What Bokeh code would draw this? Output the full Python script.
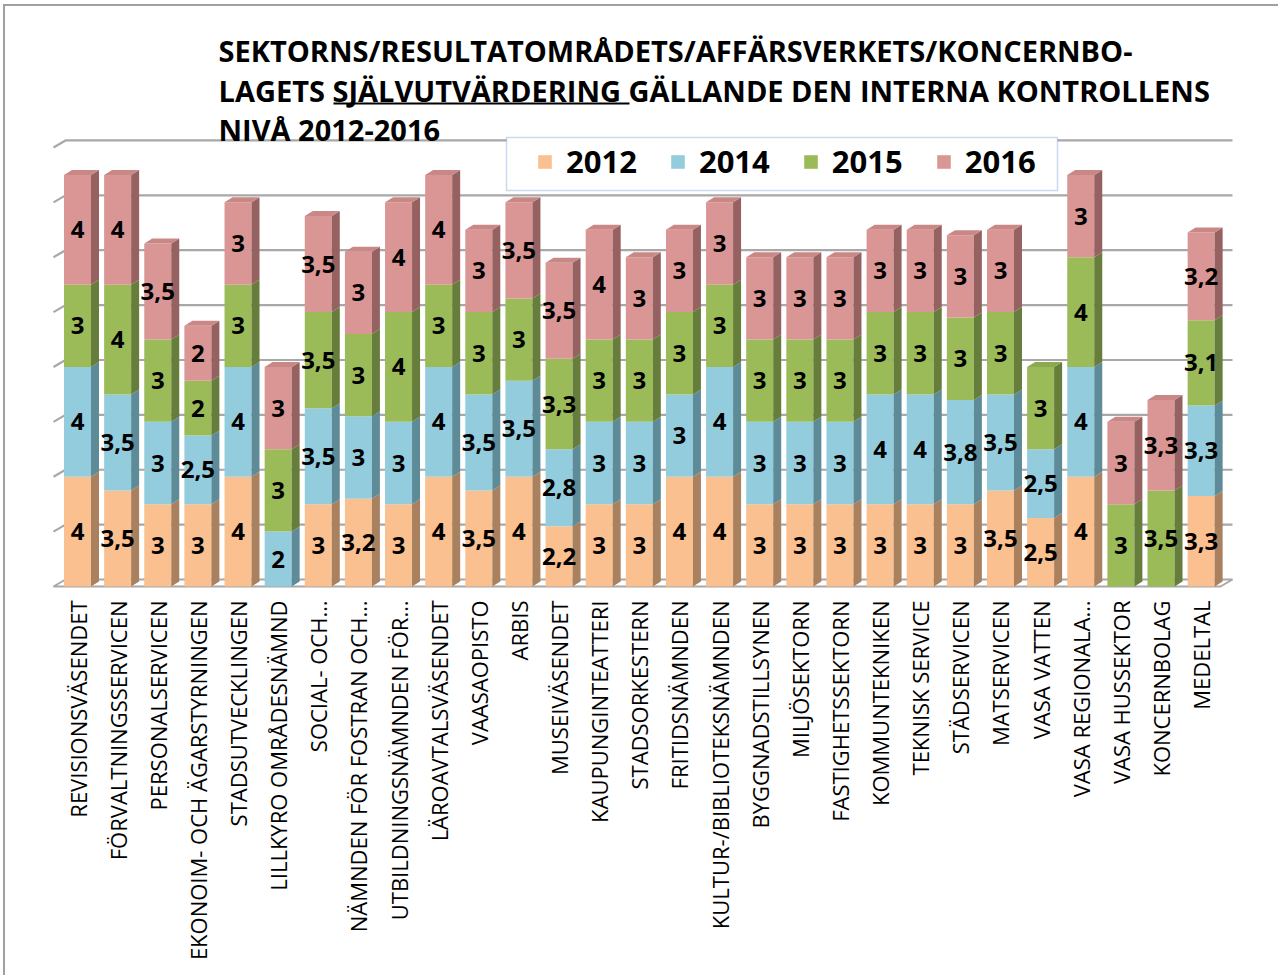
import math
import numpy as np
from bokeh.plotting import figure
from bokeh.models import ColumnDataSource, Range1d, FixedTicker, Label, BoxAnnotation
from bokeh.core.properties import value
from bokeh.embed import file_html
from bokeh.resources import INLINE

# ---------------- data ----------------
categories = [
    "REVISIONSVÄSENDET", "FÖRVALTNINGSSERVICEN", "PERSONALSERVICEN",
    "EKONOIM- OCH ÄGARSTYRNINGEN", "STADSUTVECKLINGEN", "LILLKYRO OMRÅDESNÄMND",
    "SOCIAL- OCH…", "NÄMNDEN FÖR FOSTRAN OCH…", "UTBILDNINGSNÄMNDEN FÖR…",
    "LÄROAVTALSVÄSENDET", "VAASAOPISTO", "ARBIS", "MUSEIVÄSENDET",
    "KAUPUNGINTEATTERI", "STADSORKESTERN", "FRITIDSNÄMNDEN",
    "KULTUR-/BIBLIOTEKSNÄMNDEN", "BYGGNADSTILLSYNEN", "MILJÖSEKTORN",
    "FASTIGHETSSEKTORN", "KOMMUNTEKNIKEN", "TEKNISK SERVICE", "STÄDSERVICEN",
    "MATSERVICEN", "VASA VATTEN", "VASA REGIONALA…", "VASA HUSSEKTOR",
    "KONCERNBOLAG", "MEDELTAL",
]
years = ["2012", "2014", "2015", "2016"]
score_2012 = [4, 3.5, 3, 3, 4, 0, 3, 3.2, 3, 4, 3.5, 4, 2.2, 3, 3, 4, 4, 3, 3, 3, 3, 3, 3, 3.5, 2.5, 4, 0, 0, 3.3]
score_2014 = [4, 3.5, 3, 2.5, 4, 2, 3.5, 3, 3, 4, 3.5, 3.5, 2.8, 3, 3, 3, 4, 3, 3, 3, 4, 4, 3.8, 3.5, 2.5, 4, 0, 0, 3.3]
score_2015 = [3, 4, 3, 2, 3, 3, 3.5, 3, 4, 3, 3, 3, 3.3, 3, 3, 3, 3, 3, 3, 3, 3, 3, 3, 3, 3, 4, 3, 3.5, 3.1]
score_2016 = [4, 4, 3.5, 2, 3, 3, 3.5, 3, 4, 4, 3, 3.5, 3.5, 4, 3, 3, 3, 3, 3, 3, 3, 3, 3, 3, 0, 3, 3, 3.3, 3.2]
grid_levels = [0, 2, 4, 6, 8, 10, 12, 14, 16]
title_lines = [
    "SEKTORNS/RESULTATOMRÅDETS/AFFÄRSVERKETS/KONCERNBO-",
    "LAGETS SJÄLVUTVÄRDERING GÄLLANDE DEN INTERNA KONTROLLENS",
    "NIVÅ 2012-2016",
]

series = [score_2012, score_2014, score_2015, score_2016]
n = len(categories)

# ---------------- styling ----------------
FONT = "Open Sans"
front_colors = ["#FAC090", "#93CDDD", "#9BBB59", "#D99694"]
side_colors = ["#A9815F", "#5E8B98", "#677D3B", "#956261"]
top_colors = ["#E6AF82", "#82BBCB", "#8BAA4F", "#C98786"]
grid_color = "#A8A8A8"

# page-pixel layout -> data mapping
OX, OY = 5, 6              # page position of the canvas origin
PX0, SX = 77.0, 40.13      # page x of bar 0, px per category
PY0, SY = 586.0, 27.44     # page y of value 0, px per unit
FR_L, FR_R, FR_T, FR_B = 48, 1245, OY, 592
W_FIG, H_FIG = 1275, 971


def dx_(px):
    return (px - PX0) / SX


def dy_(py):
    return (PY0 - py) / SY


W = 27 / SX          # bar front width
DX, DY = 8 / SX, 5 / SY      # bar depth
WDX, WDY = 12 / SX, 7 / SY   # wall depth
XL, XR = dx_(53), dx_(1232)

p = figure(
    width=W_FIG, height=H_FIG, title=None, toolbar_location=None,
    output_backend="svg", y_axis_location=None,
    x_range=Range1d(dx_(FR_L), dx_(FR_R)),
    y_range=Range1d(dy_(FR_B), dy_(FR_T)),
    min_border_left=FR_L - OX, min_border_right=W_FIG - (FR_R - OX),
    min_border_top=0, min_border_bottom=H_FIG - (FR_B - OY),
    background_fill_color="white", border_fill_color="white",
    outline_line_color=None,
    styles={"margin-left": "3px", "margin-top": "4px",
            "border-left": "2px solid #A0A0A0", "border-top": "2px solid #A0A0A0"},
)
p.xgrid.visible = False
p.ygrid.visible = False

# ---------------- walls / floor / gridlines ----------------
floor_x = [XL, XL + WDX, XR, XR - WDX]
floor_y = [0, WDY, WDY, 0]
p.patch(floor_x, floor_y, fill_color="white", line_color=grid_color, line_width=2)
gx, gy = [], []
for v in grid_levels[1:]:
    gx.append([XL, XL + WDX, XR])
    gy.append([v, v + WDY, v + WDY])
p.multi_line(gx, gy, line_color=grid_color, line_width=2.2)

# ---------------- bars ----------------
src = {"x": list(range(n))}
for yname, vals in zip(years, series):
    src[yname] = vals
source = ColumnDataSource(src)
renderers = p.vbar_stack(years, x="x", width=W, color=front_colors, line_color=None,
                         source=source, legend_label=years)

side_x, side_y, side_c = [], [], []
top_x, top_y, top_c = [], [], []
lab_x, lab_y, lab_t = [], [], []
bottom = np.zeros(n)
last_series = [-1] * n
for k, vals in enumerate(series):
    v = np.asarray(vals, dtype=float)
    top = bottom + v
    for i in range(n):
        if v[i] <= 0:
            continue
        xr = i + W / 2
        side_x.append([xr, xr + DX, xr + DX, xr])
        side_y.append([bottom[i], bottom[i] + DY, top[i] + DY, top[i]])
        side_c.append(side_colors[k])
        lab_x.append(i)
        lab_y.append(bottom[i] + v[i] / 2)
        lab_t.append(f"{v[i]:g}".replace(".", ","))
        last_series[i] = k
    bottom = top

for i in range(n):
    k = last_series[i]
    T = bottom[i]
    xl = i - W / 2
    top_x.append([xl, xl + DX, xl + W + DX, xl + W])
    top_y.append([T, T + DY, T + DY, T])
    top_c.append(top_colors[k])

p.patches(side_x, side_y, fill_color=side_c, line_color=None)
p.patches(top_x, top_y, fill_color=top_c, line_color=None)

p.text(lab_x, lab_y, text=lab_t, text_align="center", text_baseline="middle",
       text_font=value(FONT), text_font_style="bold", text_font_size="24px",
       text_color="black")

# ---------------- x axis ----------------
ax = p.xaxis[0]
ax.ticker = FixedTicker(ticks=list(range(n)))
ax.major_label_overrides = {i: c for i, c in enumerate(categories)}
ax.major_label_orientation = math.pi / 2
ax.major_label_text_font = FONT
ax.major_label_text_font_size = "22px"
ax.major_label_text_color = "black"
ax.major_label_standoff = 2
ax.axis_line_color = None
ax.major_tick_line_color = None
ax.minor_tick_line_color = None

# ---------------- title ----------------
for line, base in zip(title_lines, [50, 90, 129]):
    p.add_layout(Label(x=dx_(218), y=dy_(base), text=line, text_font=FONT,
                       text_font_style="bold", text_font_size="29px",
                       text_color="black", text_baseline="alphabetic"))
p.segment(x0=[dx_(333)], y0=[dy_(103)], x1=[dx_(629)], y1=[dy_(103)],
          line_color="black", line_width=2)

# ---------------- legend ----------------
p.add_layout(BoxAnnotation(left=dx_(506), right=dx_(1057), top=dy_(137), bottom=dy_(190),
                           fill_color="white", fill_alpha=1.0,
                           line_color="#4F81BD", line_width=1.5))
lg = p.legend[0]
lg.orientation = "horizontal"
lg.location = (526 - FR_L, FR_B - 192)
lg.glyph_width = 17
lg.glyph_height = 17
lg.label_standoff = 13
lg.spacing = 32
lg.padding = 10
lg.label_text_font = FONT
lg.label_text_font_style = "bold"
lg.label_text_font_size = "31px"
lg.label_text_color = "black"
lg.border_line_alpha = 0
lg.background_fill_alpha = 0

open("out.html", "w").write(file_html(p, INLINE))
